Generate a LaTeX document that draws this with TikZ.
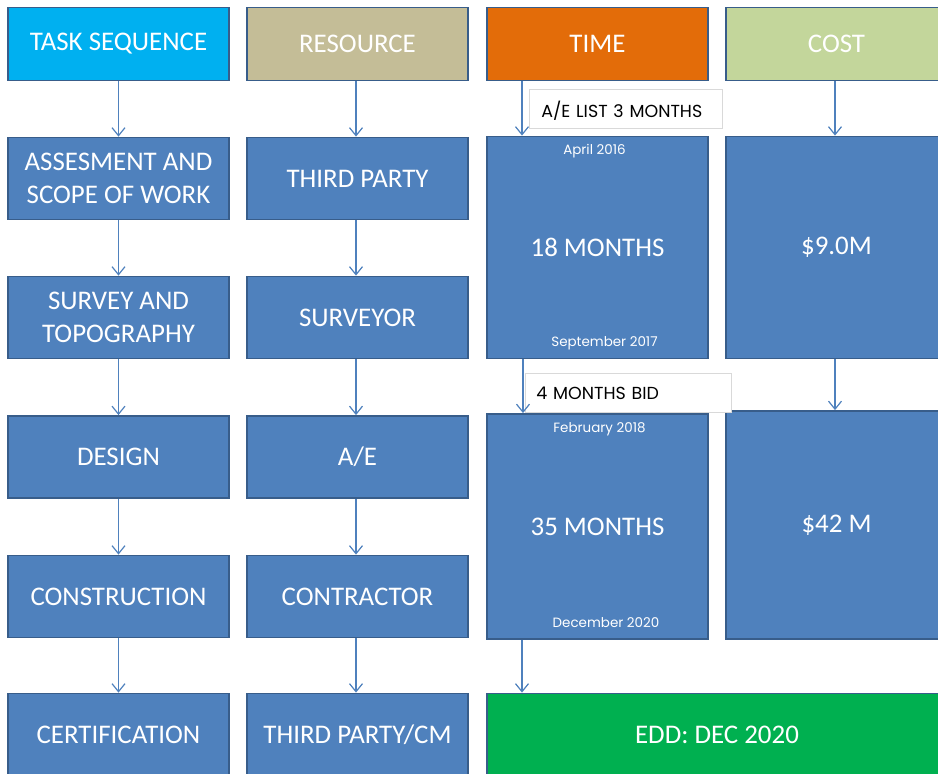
\documentclass[tikz,border=0pt]{standalone}
\usepackage{fontspec}
\setmainfont{Carlito}
\newfontfamily\gothic{Poppins}
\usetikzlibrary{arrows.meta}
\definecolor{boxblue}{HTML}{4F81BD}
\definecolor{boxedge}{HTML}{385D8A}
\definecolor{taskcol}{HTML}{00B0F0}
\definecolor{rescol}{HTML}{C4BD97}
\definecolor{timecol}{HTML}{E36C09}
\definecolor{costcol}{HTML}{C3D69B}
\definecolor{eddcol}{HTML}{00B050}
\definecolor{lbledge}{HTML}{D9D9D9}
\tikzset{
  cell/.style={draw=boxedge, line width=1.8bp, fill=boxblue, text=white, minimum width=221bp, minimum height=82bp, inner sep=0pt, align=center, font=\fontsize{27}{33}\selectfont},
  head/.style={cell, minimum height=73bp},
  tall/.style={cell, minimum height=222bp},
  lbl/.style={draw=lbledge, line width=0.8bp, fill=white, text=black, anchor=north west, minimum height=39bp, inner xsep=12bp, text depth=0pt, font=\gothic\fontsize{17.5}{20}\selectfont},
  datetxt/.style={text=white, inner sep=0pt, font=\gothic\fontsize{13.5}{15}\selectfont},
  conn/.style={draw=boxblue, line width=1.2bp, -{Straight Barb[length=8bp,width=13bp]}}
}
\begin{document}
\begin{tikzpicture}[x=1bp,y=-1bp]
\useasboundingbox (0,0) rectangle (938,774);
\clip (0,0) rectangle (938,774);
% headers
\node[head, fill=taskcol] (task) at (118.5,44) {TASK SEQUENCE};
\node[head, fill=rescol] (res) at (357.5,44) {RESOURCE};
\node[head, fill=timecol] (time) at (597.5,44) {TIME};
\node[head, fill=costcol] (cost) at (836.5,44) {COST};
% task column
\node[cell] (t1) at (118.5,178.5) {ASSESMENT AND\\SCOPE OF WORK};
\node[cell] (t2) at (118.5,317.5) {SURVEY AND\\TOPOGRAPHY};
\node[cell] (t3) at (118.5,457) {DESIGN};
\node[cell] (t4) at (118.5,596.5) {CONSTRUCTION};
\node[cell] (t5) at (118.5,734.5) {CERTIFICATION};
% resource column
\node[cell] (r1) at (357.5,178.5) {THIRD PARTY};
\node[cell] (r2) at (357.5,317.5) {SURVEYOR};
\node[cell] (r3) at (357.5,457) {A/E};
\node[cell] (r4) at (357.5,596.5) {CONTRACTOR};
\node[cell] (r5) at (357.5,734.5) {THIRD PARTY/CM};
% time column
\node[tall] (m1) at (597.5,247.5) {18 MONTHS};
\node[tall, minimum height=225bp] (m2) at (597.5,526.5) {35 MONTHS};
\node[datetxt] (d1) at (594.5,151) {April 2016};
\node[datetxt] (d2) at (604.5,343) {September 2017};
\node[datetxt] (d3) at (599.5,429) {February 2018};
\node[datetxt] (d4) at (606,623) {December 2020};
% cost column
\node[tall] (c1) at (836.5,247.5) {\$9.0M};
\node[tall, minimum height=228bp] (c2) at (836.5,525) {\$42 M};
% EDD
\node[cell, fill=eddcol, minimum width=460bp] (edd) at (717,734.5) {EDD: DEC 2020};
% labels
\node[lbl, minimum width=193bp, text width=169bp, align=left] (l1) at (529,89) {A/E LIST 3 MONTHS};
\node[lbl, minimum width=206bp, text width=184bp, align=left, inner xsep=11bp] (l2) at (525,373) {4 MONTHS BID};
% connectors
\draw[conn] (task) -- (t1);
\draw[conn] (t1) -- (t2);
\draw[conn] (t2) -- (t3);
\draw[conn] (t3) -- (t4);
\draw[conn] (t4) -- (t5);
\draw[conn] (res.south -| 356,0) -- (r1.north -| 356,0);
\draw[conn] (r1.south -| 356,0) -- (r2.north -| 356,0);
\draw[conn] (r2.south -| 356,0) -- (r3.north -| 356,0);
\draw[conn] (r3.south -| 356,0) -- (r4.north -| 356,0);
\draw[conn] (r4.south -| 356,0) -- (r5.north -| 356,0);
\draw[conn] (time.south -| 522,0) -- (m1.north -| 522,0);
\draw[conn] (m1.south -| 523,0) -- (m2.north -| 523,0);
\draw[conn] (m2.south -| 522,0) -- (edd.north -| 522,0);
\draw[conn] (cost.south -| 835,0) -- (c1.north -| 835,0);
\draw[conn] (c1.south -| 835,0) -- (c2.north -| 835,0);
\end{tikzpicture}
\end{document}
